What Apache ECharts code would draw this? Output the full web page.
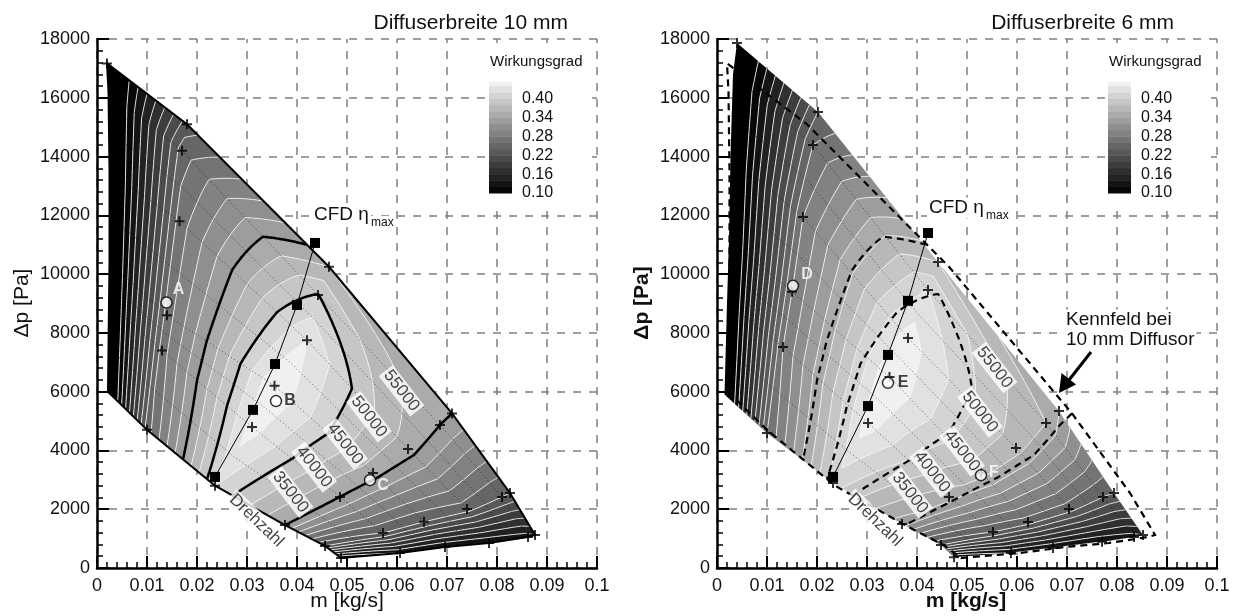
<!DOCTYPE html>
<html>
<head>
<meta charset="utf-8">
<script src="https://cdn.jsdelivr.net/npm/echarts@6/dist/echarts.min.js"></script>
<style>
  html, body { margin: 0; background: #fff; }
  #chart { width: 1236px; height: 616px; }
</style>
</head>
<body>
<div id="chart"></div>
<script>
const FONT = '"Liberation Sans", Arial, sans-serif';

// Kennfeld-Stützstellen: Zeilen = Drehzahllinien (niedrig -> hoch),
// Spalten = Drosselstellung (m = 0 ... maximale Durchsatzgrenze)
const speeds10 = [35000, 40000, 45000, 50000, 55000, 57500];
const m10 = [
  [0.0022, 0.0100, 0.0236, 0.0376, 0.0456, 0.0488],
  [0.0024, 0.0130, 0.0310, 0.0486, 0.0572, 0.0606],
  [0.0025, 0.0140, 0.0355, 0.0552, 0.0654, 0.0696],
  [0.0025, 0.0165, 0.0420, 0.0622, 0.0740, 0.0784],
  [0.0023, 0.0170, 0.0442, 0.0686, 0.0810, 0.0862],
  [0.0020, 0.0180, 0.0464, 0.0710, 0.0826, 0.0876],
];
const dp10 = [
  [6000, 4700, 2800, 1460, 750, 340],
  [9000, 7400, 4800, 2420, 1190, 510],
  [10400, 8600, 6200, 3230, 1570, 715],
  [13500, 11800, 7750, 4050, 2010, 850],
  [16200, 14200, 9290, 4870, 2420, 1055],
  [17170, 15100, 10250, 5260, 2550, 1125],
];
const eta10 = [
  [0.05, 0.25, 0.42, 0.34, 0.22, 0.10],
  [0.05, 0.27, 0.45, 0.34, 0.24, 0.12],
  [0.05, 0.27, 0.46, 0.35, 0.24, 0.12],
  [0.05, 0.27, 0.44, 0.35, 0.25, 0.12],
  [0.05, 0.25, 0.401, 0.34, 0.24, 0.13],
  [0.05, 0.23, 0.36, 0.34, 0.24, 0.14],
];

const speeds6 = [35000, 40000, 45000, 50000, 55000, 57500];
const m6 = [
  [0.0015, 0.0100, 0.0232, 0.0370, 0.0448, 0.0474],
  [0.0020, 0.0132, 0.0302, 0.0464, 0.0552, 0.0588],
  [0.0024, 0.0150, 0.0345, 0.0528, 0.0622, 0.0672],
  [0.0027, 0.0172, 0.0382, 0.0598, 0.0704, 0.0770],
  [0.0032, 0.0192, 0.0422, 0.0658, 0.0772, 0.0834],
  [0.0040, 0.0202, 0.0442, 0.0684, 0.0794, 0.0852],
];
const dp6 = [
  [5900, 4590, 2890, 1500, 780, 370],
  [9000, 7520, 4930, 2420, 1225, 510],
  [11200, 9400, 6500, 3250, 1565, 680],
  [14000, 11940, 7830, 4080, 2010, 890],
  [16800, 14390, 9460, 4930, 2420, 1055],
  [17860, 15520, 10410, 5340, 2550, 1125],
];
const eta6 = [
  [0.05, 0.26, 0.41, 0.33, 0.22, 0.10],
  [0.05, 0.28, 0.45, 0.35, 0.24, 0.12],
  [0.05, 0.28, 0.46, 0.37, 0.25, 0.12],
  [0.05, 0.28, 0.45, 0.37, 0.25, 0.12],
  [0.05, 0.26, 0.42, 0.36, 0.24, 0.13],
  [0.05, 0.24, 0.38, 0.34, 0.24, 0.14],
];

const etaLevels = [0.10, 0.12, 0.14, 0.16, 0.18, 0.20, 0.22, 0.24, 0.26, 0.28,
  0.30, 0.32, 0.34, 0.36, 0.38, 0.40, 0.42, 0.44];
const thickLevels = [0.34, 0.40];
const speedLevels = [37500, 40000, 42500, 45000, 47500, 50000, 52500, 55000];
const barTicks = [0.10, 0.16, 0.22, 0.28, 0.34, 0.40];

// CFD-Bestpunkte
const cfd10M = [0.0236, 0.0312, 0.0356, 0.0400, 0.0436];
const cfd10Dp = [3100, 5380, 6940, 8950, 11060];
const cfd6M = [0.0232, 0.0302, 0.0342, 0.0382, 0.0422];
const cfd6Dp = [3100, 5510, 7250, 9090, 11400];

// Betriebspunkte
const pts10Name = ['A', 'B', 'C'];
const pts10M = [0.0139, 0.0358, 0.0546];
const pts10Dp = [9030, 5680, 2990];
const pts6Name = ['D', 'E', 'F'];
const pts6M = [0.0152, 0.0342, 0.0528];
const pts6Dp = [9600, 6300, 3160];

// Drehzahl-Beschriftung
const rpmLabels = [35000, 40000, 45000, 50000, 55000];
const rpm10M = [0.0387, 0.0434, 0.0496, 0.0544, 0.0609];
const rpm10Dp = [2580, 3440, 4220, 5150, 6030];
const rpm6M = [0.0386, 0.0430, 0.0490, 0.0526, 0.0555];
const rpm6Dp = [2550, 3270, 3980, 5310, 6820];
const drehzahl10 = [0.0319, 1610];
const drehzahl6 = [0.0316, 1633];

const pointLabel = {
  A: { offset: [12, -13], color: '#fff' },
  B: { offset: [14, 0], color: '#111' },
  C: { offset: [13, 5], color: '#fff' },
  D: { offset: [14, -11], color: '#fff' },
  E: { offset: [15, 0], color: '#111' },
  F: { offset: [13, -3], color: '#fff' },
};

const SUB = 12;

function refine(X, Y, E, S) {
  const R = X.length, C = X[0].length;
  const nr = (R - 1) * SUB + 1, nc = (C - 1) * SUB + 1;
  const pts = [];
  for (let i = 0; i < nr; i++) {
    const r = Math.min(Math.floor(i / SUB), R - 2), v = i / SUB - r;
    const row = [];
    for (let j = 0; j < nc; j++) {
      const c = Math.min(Math.floor(j / SUB), C - 2), u = j / SUB - c;
      const bl = (A) => (1 - u) * (1 - v) * A[r][c] + u * (1 - v) * A[r][c + 1]
        + (1 - u) * v * A[r + 1][c] + u * v * A[r + 1][c + 1];
      row.push([bl(X), bl(Y), bl(E), S[r] * (1 - v) + S[r + 1] * v]);
    }
    pts.push(row);
  }
  return { pts, nr, nc };
}

function contourLines(F, key, level) {
  const { pts, nc } = F;
  const at = (id) => pts[Math.floor(id / nc)][id % nc];
  const cache = new Map(), adj = new Map(), segs = [];
  const cross = (a, b) => {
    const va = at(a)[key] - level, vb = at(b)[key] - level;
    if ((va < 0) === (vb < 0)) return null;
    const k = a < b ? a + '_' + b : b + '_' + a;
    if (!cache.has(k)) {
      const t = va / (va - vb), pa = at(a), pb = at(b);
      cache.set(k, [pa[0] + t * (pb[0] - pa[0]), pa[1] + t * (pb[1] - pa[1])]);
    }
    return k;
  };
  for (let i = 0; i < F.nr - 1; i++) {
    for (let j = 0; j < nc - 1; j++) {
      const a = i * nc + j, b = a + 1, c = a + nc + 1, d = a + nc;
      for (const [p, q, r] of [[a, b, c], [a, c, d]]) {
        const ks = [cross(p, q), cross(q, r), cross(r, p)].filter(Boolean);
        if (ks.length !== 2) continue;
        const s = segs.length;
        segs.push(ks);
        ks.forEach((k) => { if (!adj.has(k)) adj.set(k, []); adj.get(k).push(s); });
      }
    }
  }
  const used = segs.map(() => false), lines = [];
  const extend = (chain) => {
    for (;;) {
      const last = chain[chain.length - 1];
      const nxt = (adj.get(last) || []).find((s) => !used[s]);
      if (nxt === undefined) return;
      used[nxt] = true;
      chain.push(segs[nxt][0] === last ? segs[nxt][1] : segs[nxt][0]);
    }
  };
  segs.forEach((sg, s) => {
    if (used[s]) return;
    used[s] = true;
    const chain = [sg[0], sg[1]];
    extend(chain);
    chain.reverse();
    extend(chain);
    lines.push(chain.map((k) => cache.get(k)));
  });
  return lines;
}

function outline(X, Y) {
  const R = X.length, C = X[0].length, o = [];
  for (let c = 0; c < C; c++) o.push([X[0][c], Y[0][c]]);
  for (let r = 1; r < R; r++) o.push([X[r][C - 1], Y[r][C - 1]]);
  for (let c = C - 2; c >= 0; c--) o.push([X[R - 1][c], Y[R - 1][c]]);
  for (let r = R - 2; r > 0; r--) o.push([X[r][0], Y[r][0]]);
  return o;
}

const F10 = refine(m10, dp10, eta10, speeds10);
const F6 = refine(m6, dp6, eta6, speeds6);
const eps = 1e-7;
const white10 = etaLevels.filter((l) => !thickLevels.includes(l)).flatMap((l) => contourLines(F10, 2, l + eps));
const thick10 = thickLevels.flatMap((l) => contourLines(F10, 2, l + eps));
const white6 = etaLevels.flatMap((l) => contourLines(F6, 2, l + eps));
const speed10 = speedLevels.flatMap((l) => contourLines(F10, 3, l + 0.5));
const speed6 = speedLevels.flatMap((l) => contourLines(F6, 3, l + 0.5));
const edge10 = outline(m10, dp10);

function grey(b) {
  if (b === 0) return '#000';
  let g = 240;
  if (b < etaLevels.length) g = Math.round(((etaLevels[b - 1] + etaLevels[b]) / 2 - 0.10) / 0.34 * 232);
  return 'rgb(' + g + ',' + g + ',' + g + ')';
}
const bandOf = (v) => etaLevels.filter((l) => l <= v).length;

function clip(poly, lvl, above) {
  const out = [];
  for (let i = 0; i < poly.length; i++) {
    const p = poly[i], q = poly[(i + 1) % poly.length];
    const pin = above ? p[2] >= lvl : p[2] < lvl;
    const qin = above ? q[2] >= lvl : q[2] < lvl;
    if (pin) out.push(p);
    if (pin !== qin) {
      const t = (lvl - p[2]) / (q[2] - p[2]);
      out.push([p[0] + t * (q[0] - p[0]), p[1] + t * (q[1] - p[1]), lvl]);
    }
  }
  return out;
}

const toPath = (pts, close) =>
  pts.map((p, k) => (k ? 'L' : 'M') + p[0].toFixed(2) + ' ' + p[1].toFixed(2)).join('') + (close ? 'Z' : '');

function renderField(api, F, layers) {
  const P = F.pts.map((row) => row.map((p) => {
    const c = api.coord([p[0], p[1]]);
    return [c[0], c[1], p[2]];
  }));
  const bands = [];
  for (let k = 0; k <= etaLevels.length; k++) bands.push([]);
  for (let i = 0; i < F.nr - 1; i++) {
    for (let j = 0; j < F.nc - 1; j++) {
      const a = P[i][j], b = P[i][j + 1], c = P[i + 1][j + 1], d = P[i + 1][j];
      for (const tri of [[a, b, c], [a, c, d]]) {
        const vs = tri.map((p) => p[2]);
        const k0 = bandOf(Math.min(...vs)), k1 = bandOf(Math.max(...vs));
        for (let k = k0; k <= k1; k++) {
          let poly = tri;
          if (k > 0) poly = clip(poly, etaLevels[k - 1], true);
          if (k < etaLevels.length) poly = clip(poly, etaLevels[k], false);
          if (poly.length >= 3) bands[k].push(toPath(poly, true));
        }
      }
    }
  }
  const children = [];
  bands.forEach((arr, k) => {
    if (arr.length) children.push({ type: 'path', shape: { pathData: arr.join('') }, style: { fill: grey(k), stroke: 'none' } });
  });
  layers.forEach((ly) => {
    const d = ly.lines.map((ln) => toPath(ln.map((p) => api.coord(p)), ly.close)).join('');
    children.push({ type: 'path', shape: { pathData: d }, style: Object.assign({ fill: 'none' }, ly.style) });
  });
  return { type: 'group', children };
}

const whiteStyle = { stroke: '#f2f2f2', lineWidth: 0.9 };
const dotStyle = { stroke: 'rgba(0,0,0,0.6)', lineWidth: 0.8, lineDash: [1.2, 2.4] };

const PLUS = 'path://M4,0H6V4H10V6H6V10H4V6H0V4H4Z';

function fieldSeries(idx, F, layers) {
  return {
    type: 'custom', xAxisIndex: idx, yAxisIndex: idx, data: [[0.05, 9000]], silent: true, z: 2,
    renderItem: (params, api) => renderField(api, F, layers),
  };
}

function plusSeries(idx, M, DP) {
  const data = [[M[M.length - 1][0], DP[DP.length - 1][0]]];
  M.forEach((row, r) => row.forEach((m, c) => { if (c > 0) data.push([m, DP[r][c]]); }));
  return { type: 'scatter', xAxisIndex: idx, yAxisIndex: idx, data, symbol: PLUS, symbolSize: 10,
    itemStyle: { color: '#000' }, z: 6, silent: true };
}

function cfdSeries(idx, M, DP) {
  return { type: 'line', xAxisIndex: idx, yAxisIndex: idx, data: M.map((m, i) => [m, DP[i]]),
    symbol: 'rect', symbolSize: 10, showSymbol: true, itemStyle: { color: '#000' },
    lineStyle: { color: '#000', width: 1 }, z: 7, silent: true };
}

function pointSeries(idx, names, M, DP) {
  return {
    type: 'scatter', xAxisIndex: idx, yAxisIndex: idx, z: 8, silent: true, symbol: 'circle', symbolSize: 11,
    itemStyle: { color: '#fff', borderColor: '#000', borderWidth: 1.5 },
    data: names.map((n, i) => ({ name: n, value: [M[i], DP[i]], label: pointLabel[n] })),
    label: { show: true, position: 'inside', formatter: '{b}', fontSize: 16, fontWeight: 'bold', fontFamily: FONT },
  };
}

function tagSeries(idx, M, DP, texts, rotate) {
  return {
    type: 'scatter', xAxisIndex: idx, yAxisIndex: idx, z: 7, silent: true, symbolSize: 1,
    itemStyle: { color: 'rgba(0,0,0,0)' },
    data: texts.map((t, i) => [M[i], DP[i], t]),
    label: { show: true, position: 'inside', rotate, formatter: (p) => String(p.value[2]),
      fontSize: 17, fontFamily: FONT, color: '#111', backgroundColor: '#fff', padding: [0, 2, 0, 2], lineHeight: 18 },
  };
}

function xAxisCfg(gridIndex) {
  return {
    type: 'value', gridIndex, min: 0, max: 0.1, interval: 0.01,
    axisLine: { show: true, onZero: false, lineStyle: { color: '#000', width: 2.5 } },
    axisTick: { show: true, inside: true, length: 12, lineStyle: { color: '#000', width: 2 } },
    minorTick: { show: true, splitNumber: 5, length: 6, lineStyle: { color: '#000', width: 1.5 } },
    axisLabel: { color: '#111', fontSize: 18, fontFamily: FONT, margin: 9, formatter: (v) => String(+v.toFixed(2)) },
    splitLine: { show: true, lineStyle: { color: '#808080', width: 1.5, type: [8, 8], dashOffset: 4 } },
  };
}
function yAxisCfg(gridIndex) {
  return {
    type: 'value', gridIndex, min: 0, max: 18000, interval: 2000,
    axisLine: { show: true, onZero: false, lineStyle: { color: '#000', width: 2.5 } },
    axisTick: { show: true, inside: true, length: 12, lineStyle: { color: '#000', width: 2 } },
    minorTick: { show: true, splitNumber: 5, length: 6, lineStyle: { color: '#000', width: 1.5 } },
    axisLabel: { color: '#111', fontSize: 18, fontFamily: FONT, margin: 7, formatter: (v) => String(v) },
    splitLine: { show: true, lineStyle: { color: '#808080', width: 1.5, type: [8, 8], dashOffset: 4 } },
  };
}

const txt = (x, y, text, o) => ({
  type: 'text', x, y, silent: true, z: 20,
  style: Object.assign({ text, fontFamily: FONT, fontSize: 18, fill: '#111', align: 'left', verticalAlign: 'middle' }, o || {}),
});
const box = (x, y, w, h) => ({ type: 'rect', silent: true, z: 19, shape: { x, y, width: w, height: h }, style: { fill: '#fff' } });

function colorbar(x0) {
  const els = [box(x0 - 3, 46, 106, 157)];
  for (let b = 1; b <= etaLevels.length; b++) {
    const yTop = b < etaLevels.length ? 193 - 6.3 * b : 82;
    const yBot = 193 - 6.3 * (b - 1);
    els.push({ type: 'rect', silent: true, z: 20, shape: { x: x0, y: yTop, width: 23, height: yBot - yTop + 0.5 }, style: { fill: grey(b) } });
  }
  barTicks.forEach((t) => els.push(txt(x0 + 33, 193 - 6.3 * Math.round((t - 0.10) / 0.02), t.toFixed(2), { fontSize: 16 })));
  els.push(txt(x0 + 1, 62, 'Wirkungsgrad', { fontSize: 15 }));
  return els;
}

const yName = (x, bold) => Object.assign(txt(x, 303, 'Δp [Pa]', { fontSize: 21, align: 'center', fontWeight: bold ? 'bold' : 'normal' }), { rotation: Math.PI / 2 });
const labelBg = { backgroundColor: '#fff', padding: [1, 2, 1, 2] };

const graphics = [
  txt(568, 23, 'Diffuserbreite 10 mm', { fontSize: 21, align: 'right' }),
  txt(1174, 23, 'Diffuserbreite 6 mm', { fontSize: 21, align: 'right' }),
  ...colorbar(489),
  ...colorbar(1108),
  yName(22, false),
  yName(642, true),
  txt(347, 601, 'm [kg/s]', { fontSize: 21, align: 'center' }),
  txt(966, 601, 'm [kg/s]', { fontSize: 21, align: 'center', fontWeight: 'bold' }),
  txt(312, 215, 'CFD η', Object.assign({ fontSize: 19 }, labelBg)),
  txt(369, 223, 'max', Object.assign({ fontSize: 12 }, labelBg)),
  txt(927, 208, 'CFD η', Object.assign({ fontSize: 19 }, labelBg)),
  txt(984, 216, 'max', Object.assign({ fontSize: 12 }, labelBg)),
  txt(1064, 320, 'Kennfeld bei', Object.assign({ fontSize: 19 }, labelBg)),
  txt(1064, 340, '10 mm Diffusor', Object.assign({ fontSize: 19 }, labelBg)),
  { type: 'line', silent: true, z: 20, shape: { x1: 1091, y1: 352, x2: 1069, y2: 380 }, style: { stroke: '#000', lineWidth: 3 } },
  { type: 'polygon', silent: true, z: 20, shape: { points: [[1059, 393], [1061.5, 373], [1076, 384.5]] }, style: { fill: '#000' } },
];

const option = {
  animation: false,
  backgroundColor: '#fff',
  textStyle: { fontFamily: FONT },
  grid: [
    { left: 97, top: 39, width: 500, height: 529, outerBoundsMode: 'none' },
    { left: 717, top: 39, width: 500, height: 529, outerBoundsMode: 'none' },
  ],
  xAxis: [xAxisCfg(0), xAxisCfg(1)],
  yAxis: [yAxisCfg(0), yAxisCfg(1)],
  graphic: { elements: graphics },
  series: [
    fieldSeries(0, F10, [
      { lines: white10, style: whiteStyle },
      { lines: speed10, style: dotStyle },
      { lines: thick10, style: { stroke: '#000', lineWidth: 2.5 } },
      { lines: [edge10], close: true, style: { stroke: '#000', lineWidth: 2 } },
    ]),
    fieldSeries(1, F6, [
      { lines: white6, style: whiteStyle },
      { lines: speed6, style: dotStyle },
      { lines: thick10, style: { stroke: '#000', lineWidth: 2.2, lineDash: [7, 5] } },
      { lines: [edge10], close: true, style: { stroke: '#000', lineWidth: 2.2, lineDash: [7, 5] } },
    ]),
    cfdSeries(0, cfd10M, cfd10Dp),
    cfdSeries(1, cfd6M, cfd6Dp),
    plusSeries(0, m10, dp10),
    plusSeries(1, m6, dp6),
    tagSeries(0, rpm10M, rpm10Dp, rpmLabels, -52),
    tagSeries(1, rpm6M, rpm6Dp, rpmLabels, -52),
    tagSeries(0, [drehzahl10[0]], [drehzahl10[1]], ['Drehzahl'], -44),
    tagSeries(1, [drehzahl6[0]], [drehzahl6[1]], ['Drehzahl'], -44),
    pointSeries(0, pts10Name, pts10M, pts10Dp),
    pointSeries(1, pts6Name, pts6M, pts6Dp),
  ],
};

const chart = echarts.init(document.getElementById('chart'), null, { renderer: 'canvas' });
chart.setOption(option);
</script>
</body>
</html>
